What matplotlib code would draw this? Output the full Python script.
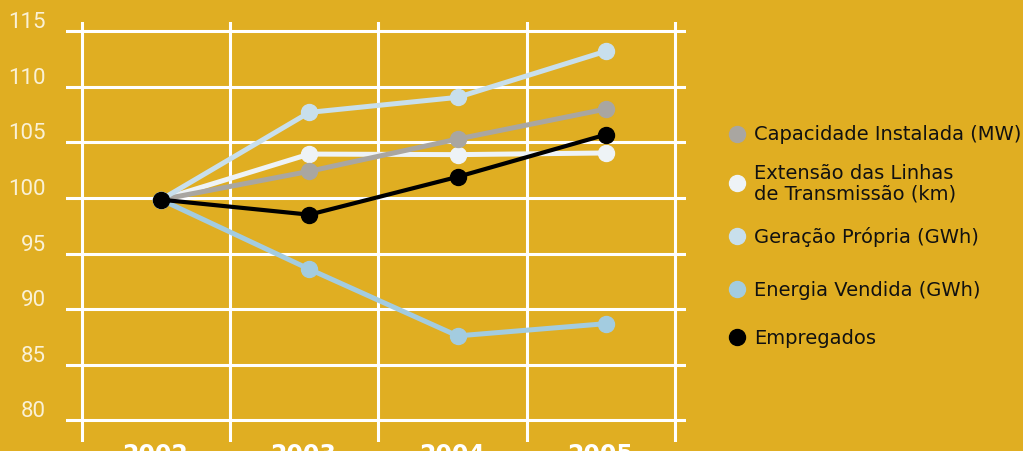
import matplotlib
matplotlib.use("Agg")
import matplotlib.pyplot as plt
import numpy as np

years = ["2002", "2003", "2004", "2005"]
y_ticks = [80, 85, 90, 95, 100, 105, 110, 115]

capacidade = [99.85, 102.4, 105.3, 108.0]
extensao = [99.85, 103.95, 103.9, 104.05]
geracao = [99.85, 107.7, 109.05, 113.2]
vendida = [99.85, 93.6, 87.6, 88.7]
empregados = [99.85, 98.5, 101.9, 105.7]

labels = ["Capacidade Instalada (MW)",
          "Extensão das Linhas\nde Transmissão (km)",
          "Geração Própria (GWh)",
          "Energia Vendida (GWh)",
          "Empregados"]

BG = "#E0AE22"
c_cap = "#A9A6A1"
c_ext = "#EEF3F6"
c_ger = "#C8DFEC"
c_ven = "#A3CCE0"
c_emp = "#000000"

W, H = 1023, 452
fig = plt.figure(figsize=(W / 100, H / 100), dpi=100, facecolor=BG)

# axes in pixel coordinates
ax_l, ax_r, ax_t, ax_b = 66, 686, 23, 443
ax = fig.add_axes([ax_l / W, 1 - ax_b / H, (ax_r - ax_l) / W, (ax_b - ax_t) / H])
ax.set_facecolor(BG)
for s in ax.spines.values():
    s.set_visible(False)
ax.set_xticks([])
ax.set_yticks([])

xs = np.arange(len(years))
px_per_x = 148.3
x0_px = 161
ax.set_xlim((ax_l - x0_px) / px_per_x, (ax_r - x0_px) / px_per_x)
px_per_y = 11.12
ax.set_ylim(100 - (ax_b - 199) / px_per_y, 100 + (199 - ax_t) / px_per_y)

for v in y_ticks:
    ax.axhline(v, color="white", lw=2.2, zorder=1)
vlines = np.arange(len(years) + 1) - 0.535
for v in vlines:
    ax.axvline(v, color="white", lw=2.2, zorder=1)

series = [(extensao, c_ext, 3.6), (capacidade, c_cap, 3.6), (geracao, c_ger, 3.6),
          (vendida, c_ven, 3.6), (empregados, c_emp, 3.0)]
for i, (vals, col, lw) in enumerate(series):
    ax.plot(xs, vals, color=col, lw=lw, marker="o", ms=11.5, zorder=3 + i,
            solid_capstyle="round")

# y tick labels
for v in y_ticks:
    yy = v + 9.5 / px_per_y
    ax.text((46 - x0_px) / px_per_x, yy, str(v), transform=ax.transData,
            ha="right", va="center", fontsize=16, color="#FAF1D6",
            fontweight="normal", family="Roboto", clip_on=False)

# x labels
for i, yr in enumerate(years):
    fig.text((x0_px + (i - 0.04) * px_per_x) / W, 1 - 443 / H, yr,
             ha="center", va="top", fontsize=17, fontweight="bold",
             color="white", family="DejaVu Sans")

# legend
leg_y = [135, 184, 237, 290, 338]
leg_cols = [c_cap, c_ext, c_ger, c_ven, c_emp]
for ly, lab, col in zip(leg_y, labels, leg_cols):
    fig.lines.append(plt.Line2D([737 / W], [1 - ly / H], marker="o", ms=11.5,
                                color=col, transform=fig.transFigure, ls="none"))
    fig.text(754 / W, 1 - ly / H, lab, ha="left", va="center", fontsize=14,
             color="#111111", family="DejaVu Sans", linespacing=1.1)

fig.savefig("out.png", dpi=100, facecolor=BG)
